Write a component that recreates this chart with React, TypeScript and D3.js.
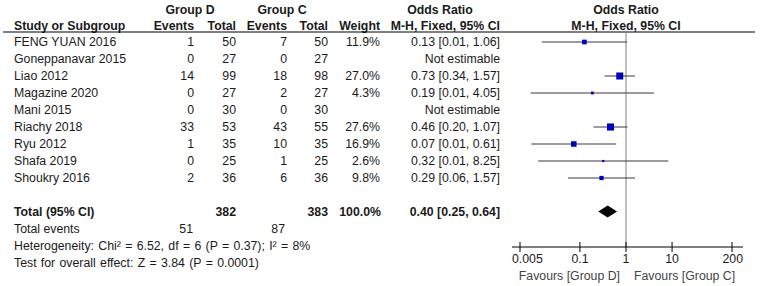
import React from "react";
import * as d3 from "d3";

const studies = ["FENG YUAN 2016", "Goneppanavar 2015", "Liao 2012", "Magazine 2020", "Mani 2015", "Riachy 2018", "Ryu 2012", "Shafa 2019", "Shoukry 2016"];
const eventsD = [1, 0, 14, 0, 0, 33, 1, 0, 2];
const totalD = [50, 27, 99, 27, 30, 53, 35, 25, 36];
const eventsC = [7, 0, 18, 2, 0, 43, 10, 1, 6];
const totalC = [50, 27, 98, 27, 30, 55, 35, 25, 36];
const weights: (number | null)[] = [11.9, null, 27.0, 4.3, null, 27.6, 16.9, 2.6, 9.8];
const orValues: (number | null)[] = [0.125, null, 0.732, 0.186, null, 0.461, 0.0735, 0.320, 0.294];
const ciLow: (number | null)[] = [0.0148, null, 0.342, 0.0085, null, 0.197, 0.0088, 0.0124, 0.0551];
const ciHigh: (number | null)[] = [1.06, null, 1.568, 4.05, null, 1.075, 0.612, 8.25, 1.568];

const totalCount = { d: 382, c: 383 };
const totalEvents = { d: 51, c: 87 };
const pooled = { or: 0.40, lo: 0.25, hi: 0.64, weight: 100.0 };
const axisTicks = [0.005, 0.1, 1, 10, 200];
const heterogeneityText = "Heterogeneity: Chi\u00B2 = 6.52, df = 6 (P = 0.37); I\u00B2 = 8%";
const overallText = "Test for overall effect: Z = 3.84 (P = 0.0001)";
const favoursLeft = "Favours [Group D]";
const favoursRight = "Favours [Group C]";

const FONT = "'Liberation Sans', Arial, sans-serif";
const FS = 12.3;
const TXT = "#1a1a1a";

export default function App() {
  const x = d3.scaleLog().domain([0.005, 200]).range([520, 732]);
  const rowY = d3.scalePoint<number>().domain(d3.range(studies.length)).range([42, 178]);
  const step = rowY.step();
  const totalY = 178 + step * 2 - 0.5;
  const evY = totalY + step;
  const hetY = evY + step;
  const testY = hetY + step;
  const axisY = 247;
  const headerLineY = 32;
  const size = d3.scaleSqrt().domain([0, 30]).range([0, 7.4]);
  const f2 = d3.format(".2f");
  const f1 = d3.format(".1f");

  const colEvD = 194, colTotD = 236, colEvC = 287, colTotC = 328, colW = 380, colOR = 500;

  const t = (props: any, s: string) => (
    <text fontFamily={FONT} fontSize={FS} fill={TXT} dy="0.35em" {...props}>{s}</text>
  );

  return (
    <svg width={761} height={286} style={{ position: "absolute", left: 0, top: 0, background: "#fff" }}>
      {/* headers */}
      {t({ x: 190, y: 10, textAnchor: "middle", fontWeight: "bold" }, "Group D")}
      {t({ x: 282, y: 10, textAnchor: "middle", fontWeight: "bold" }, "Group C")}
      {t({ x: 440, y: 10, textAnchor: "middle", fontWeight: "bold" }, "Odds Ratio")}
      {t({ x: x(1), y: 10, textAnchor: "middle", fontWeight: "bold" }, "Odds Ratio")}
      {t({ x: 14, y: 26, fontWeight: "bold" }, "Study or Subgroup")}
      {t({ x: colEvD, y: 26, textAnchor: "end", fontWeight: "bold" }, "Events")}
      {t({ x: colTotD, y: 26, textAnchor: "end", fontWeight: "bold" }, "Total")}
      {t({ x: colEvC, y: 26, textAnchor: "end", fontWeight: "bold" }, "Events")}
      {t({ x: colTotC, y: 26, textAnchor: "end", fontWeight: "bold" }, "Total")}
      {t({ x: colW, y: 26, textAnchor: "end", fontWeight: "bold" }, "Weight")}
      {t({ x: colOR, y: 26, textAnchor: "end", fontWeight: "bold" }, "M-H, Fixed, 95% CI")}
      {t({ x: x(1), y: 26, textAnchor: "middle", fontWeight: "bold" }, "M-H, Fixed, 95% CI")}
      <line x1={3} x2={755} y1={headerLineY} y2={headerLineY} stroke="#000" strokeWidth={1.2} />

      {/* null line */}
      <line x1={x(1)} x2={x(1)} y1={headerLineY + 1} y2={axisY} stroke="#808080" strokeWidth={1} />

      {/* rows */}
      {studies.map((s, i) => {
        const y = rowY(i)!;
        const w = weights[i];
        const or = orValues[i];
        const lo = ciLow[i];
        const hi = ciHigh[i];
        const sq = w != null ? Math.max(2, size(w)) : 0;
        return (
          <g key={s}>
            {t({ x: 14, y }, s)}
            {t({ x: colEvD, y, textAnchor: "end" }, String(eventsD[i]))}
            {t({ x: colTotD, y, textAnchor: "end" }, String(totalD[i]))}
            {t({ x: colEvC, y, textAnchor: "end" }, String(eventsC[i]))}
            {t({ x: colTotC, y, textAnchor: "end" }, String(totalC[i]))}
            {w != null && t({ x: colW, y, textAnchor: "end" }, f1(w) + "%")}
            {t({ x: colOR, y, textAnchor: "end" },
              or != null && lo != null && hi != null ? `${f2(or)} [${f2(lo)}, ${f2(hi)}]` : "Not estimable")}
            {or != null && lo != null && hi != null && (
              <g>
                <line x1={x(lo)} x2={x(hi)} y1={y} y2={y} stroke="#3a3a3a" strokeWidth={1} />
                <rect x={x(or) - sq / 2} y={y - sq / 2} width={sq} height={sq} fill="#0000c0" />
              </g>
            )}
          </g>
        );
      })}

      {/* total */}
      {t({ x: 14, y: totalY, fontWeight: "bold" }, "Total (95% CI)")}
      {t({ x: colTotD, y: totalY, textAnchor: "end", fontWeight: "bold" }, String(totalCount.d))}
      {t({ x: colTotC, y: totalY, textAnchor: "end", fontWeight: "bold" }, String(totalCount.c))}
      {t({ x: colW + 1, y: totalY, textAnchor: "end", fontWeight: "bold" }, f1(pooled.weight) + "%")}
      {t({ x: colOR, y: totalY, textAnchor: "end", fontWeight: "bold" }, `${f2(pooled.or)} [${f2(pooled.lo)}, ${f2(pooled.hi)}]`)}
      <path
        d={`M${x(pooled.lo)},${totalY} L${x(pooled.or)},${totalY - 6} L${x(pooled.hi)},${totalY} L${x(pooled.or)},${totalY + 6} Z`}
        fill="#000"
      />
      {t({ x: 14, y: evY }, "Total events")}
      {t({ x: colEvD - 1, y: evY, textAnchor: "end" }, String(totalEvents.d))}
      {t({ x: colEvC - 2, y: evY, textAnchor: "end" }, String(totalEvents.c))}
      {t({ x: 14, y: hetY, wordSpacing: 0.9 }, heterogeneityText)}
      {t({ x: 14, y: testY, wordSpacing: 0.9 }, overallText)}

      {/* axis */}
      <line x1={x.range()[0] - 8} x2={x.range()[1] + 11} y1={axisY} y2={axisY} stroke="#000" strokeWidth={1} />
      {axisTicks.map((v, i) => (
        <g key={v}>
          <line x1={x(v)} x2={x(v)} y1={axisY - 5} y2={axisY + 5} stroke="#000" strokeWidth={1} />
          {t({
            x: i === 0 ? x.range()[0] - 8 : i === axisTicks.length - 1 ? x.range()[1] + 11 : x(v),
            y: axisY + 12,
            textAnchor: i === 0 ? "start" : i === axisTicks.length - 1 ? "end" : "middle",
          }, String(v))}
        </g>
      ))}
      {t({ x: x(1) - 6, y: axisY + 29, textAnchor: "end", fill: "#444" }, favoursLeft)}
      {t({ x: x(1) + 8, y: axisY + 29, textAnchor: "start", fill: "#444" }, favoursRight)}
    </svg>
  );
}
